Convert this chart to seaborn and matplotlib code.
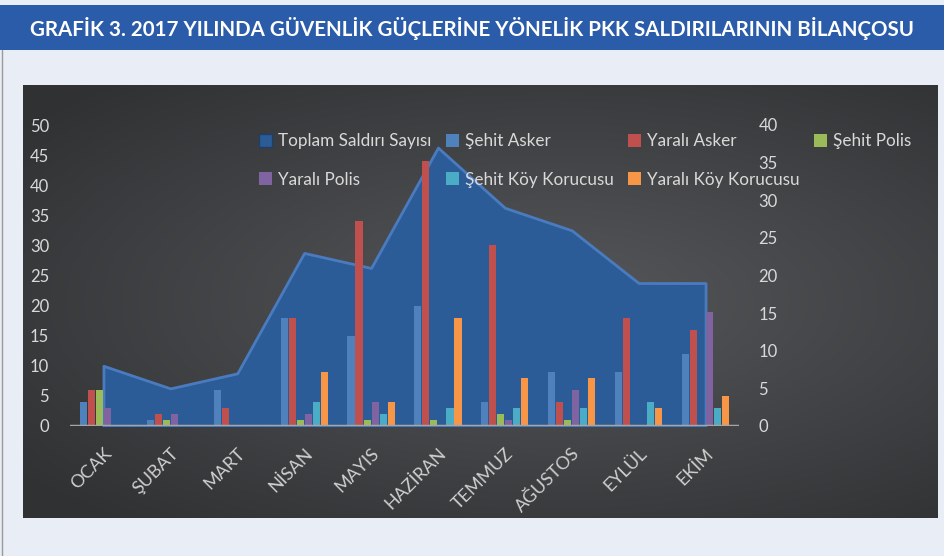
import matplotlib
matplotlib.use("Agg")
import numpy as np
import pandas as pd
import matplotlib.pyplot as plt
from matplotlib.patches import Patch, Rectangle
from matplotlib.lines import Line2D
import seaborn as sns

# --- data ---
months = ["OCAK", "ŞUBAT", "MART", "NİSAN", "MAYIS", "HAZİRAN",
          "TEMMUZ", "AĞUSTOS", "EYLÜL", "EKİM"]
toplam_saldiri = [8, 5, 7, 23, 21, 37, 29, 26, 19, 19]   # right axis (area)
sehit_asker = [4, 1, 6, 18, 15, 20, 4, 9, 9, 12]
yarali_asker = [6, 2, 3, 18, 34, 44, 30, 4, 18, 16]
sehit_polis = [6, 1, 0, 1, 1, 1, 2, 1, 0, 0]
yarali_polis = [3, 2, 0, 2, 4, 0, 1, 6, 0, 19]
sehit_korucu = [0, 0, 0, 4, 2, 3, 3, 3, 4, 3]
yarali_korucu = [0, 0, 0, 9, 4, 18, 8, 8, 3, 5]

series_names = ["Şehit Asker", "Yaralı Asker", "Şehit Polis", "Yaralı Polis",
                "Şehit Köy Korucusu", "Yaralı Köy Korucusu"]
series_colors = ["#4F81BD", "#C0504D", "#9BBB59", "#8064A2", "#4BACC6", "#F79646"]
area_name = "Toplam Saldırı Sayısı"
area_color = "#2B5C98"

wide = pd.DataFrame({"ay": months,
                     "Şehit Asker": sehit_asker,
                     "Yaralı Asker": yarali_asker,
                     "Şehit Polis": sehit_polis,
                     "Yaralı Polis": yarali_polis,
                     "Şehit Köy Korucusu": sehit_korucu,
                     "Yaralı Köy Korucusu": yarali_korucu})
df = wide.melt(id_vars="ay", var_name="seri", value_name="deger")

sns.set_theme(style="white")
plt.rcParams["font.family"] = ["Lato", "DejaVu Sans"]

W, H = 945, 556
fig = plt.figure(figsize=(W / 100, H / 100), dpi=100)
fig.patch.set_facecolor("#E9EDF6")

# title banner
fig.patches.append(Rectangle((0, 1 - 50 / H), 1, 45 / H, transform=fig.transFigure,
                             facecolor="#2B5CAA", edgecolor="none", zorder=0))
fig.text(0.5, 1 - 28 / H,
         "GRAFİK 3. 2017 YILINDA GÜVENLİK GÜÇLERİNE YÖNELİK PKK SALDIRILARININ BİLANÇOSU",
         color="white", fontsize=14.8, fontweight="bold", ha="center", va="center")
fig.add_artist(Line2D([2 / W, 2 / W], [0, 1 - 50 / H], transform=fig.transFigure,
                      color="#9A9A9A", lw=1))

# dark gradient panel
bg = fig.add_axes([23 / W, 1 - 518 / H, 915 / W, 433 / H], zorder=-1)
yy, xx = np.mgrid[0:1:200j, 0:1:300j]
r = np.sqrt(((xx - 0.58) / 1.0) ** 2 + ((yy - 0.5) / 0.9) ** 2)
shade = np.clip(1 - r / 0.75, 0, 1)
cmap = matplotlib.colors.LinearSegmentedColormap.from_list("panel", ["#303133", "#56575A"])
bg.imshow(shade, cmap=cmap, aspect="auto", extent=[0, 1, 0, 1])
bg.set_axis_off()

# bars on the left axis (front), area on a twin right axis (behind)
ax = fig.add_axes([70 / W, 1 - 426 / H, 669 / W, 301 / H])
ax_area = ax.twinx()
ax.set_zorder(ax_area.get_zorder() + 1)
ax.patch.set_visible(False)
ax_area.patch.set_visible(False)

x = np.arange(len(months))
ax_area.fill_between(x, toplam_saldiri, 0, color=area_color, edgecolor="#4A7BBE", lw=2)
ax_area.set_ylim(0, 40)
ax_area.set_yticks(range(0, 41, 5))

sns.barplot(data=df, x="ay", y="deger", hue="seri", order=months, hue_order=series_names,
            palette=series_colors, width=0.72, gap=0.12, legend=False, ax=ax,
            edgecolor="none", saturation=1)
ax.set_ylim(0, 50)
ax.set_yticks(range(0, 51, 5))
ax.set_xlim(-0.5, len(months) - 0.5)
ax.axhline(0, color="#A6A6A6", lw=2.5, zorder=5)

tick_color = "#D9D9D9"
for a in (ax, ax_area):
    for s in a.spines.values():
        s.set_visible(False)
    a.set_xlabel("")
    a.set_ylabel("")
ax.tick_params(axis="y", length=0, pad=15, labelsize=12, labelcolor=tick_color)
ax_area.tick_params(axis="y", length=0, pad=14, labelsize=12, labelcolor=tick_color)
ax.tick_params(axis="x", length=0, pad=14, labelsize=13, labelcolor="#CFCFCF")
ax.set_xticks(x)
ax.set_xticklabels(months, rotation=45, ha="right", rotation_mode="anchor")

# legend, row-major like the original (matplotlib fills column-wise)
h = {area_name: Patch(facecolor=area_color, edgecolor="#1E3F6A")}
for n, c in zip(series_names, series_colors):
    h[n] = Patch(facecolor=c, edgecolor="none")
order = [area_name, "Yaralı Polis", "Şehit Asker", "Şehit Köy Korucusu",
         "Yaralı Asker", "Yaralı Köy Korucusu", "Şehit Polis"]
fig.legend([h[k] for k in order], order, loc="upper left",
           bbox_to_anchor=(244 / W, 1 - 118 / H), ncol=4, frameon=False,
           fontsize=12.3, labelcolor=tick_color, handlelength=0.75, handleheight=0.75,
           handletextpad=0.35, columnspacing=0.85, labelspacing=1.3)

fig.savefig("out.png", dpi=100, facecolor=fig.get_facecolor())
